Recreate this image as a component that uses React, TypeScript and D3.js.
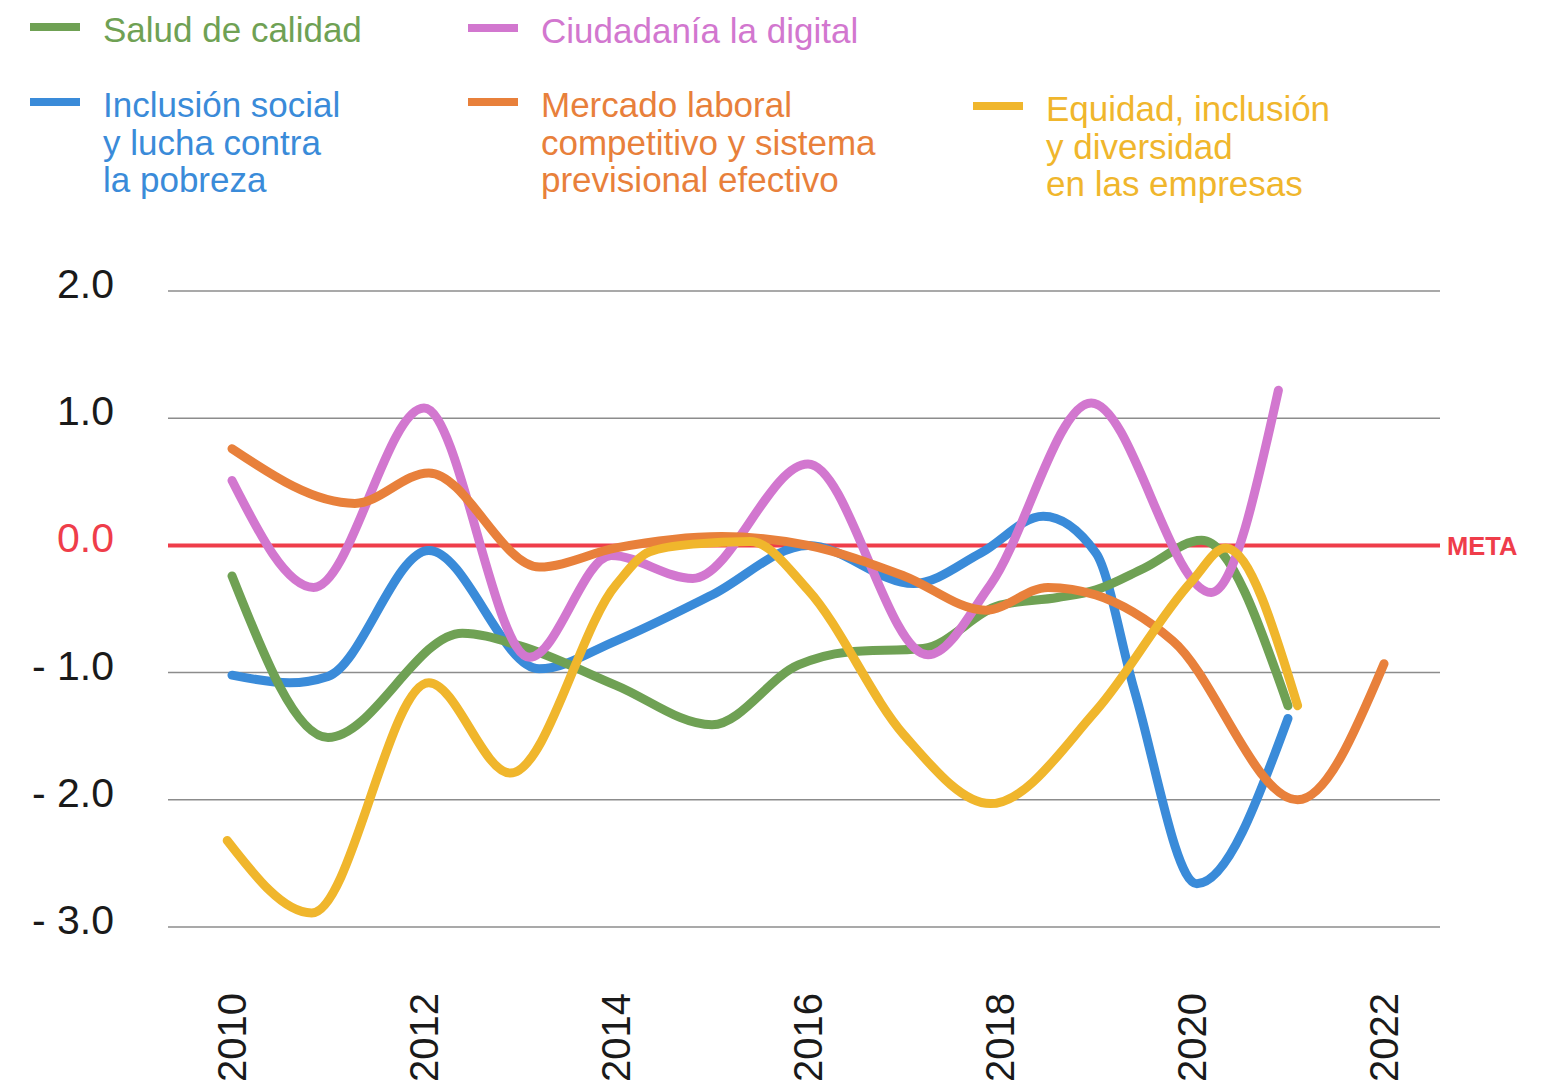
import React from "react";
import * as d3 from "d3";

const W = 1541;
const H = 1090;

// Year ticks and y ticks
const yearTicks = [2010, 2012, 2014, 2016, 2018, 2020, 2022];
const valueTicks = [2, 1, 0, -1, -2, -3];
const valueTickLabels = ["2.0", "1.0", "0.0", "- 1.0", "- 2.0", "- 3.0"];

// Series data: [year, value]
const salud: [number, number][] = [
  [2010, -0.24], [2011.0, -1.51], [2012.4, -0.69], [2013, -0.79], [2014, -1.1],
  [2015, -1.41], [2015.9, -0.94], [2016.4, -0.84], [2017.2, -0.81], [2018, -0.47],
  [2018.6, -0.41], [2019, -0.35], [2019.5, -0.18], [2020.1, 0.04], [2021.0, -1.26],
];
const inclusion: [number, number][] = [
  [2010, -1.02], [2010.6, -1.08], [2011, -1.03], [2012.05, -0.04], [2013.2, -0.97],
  [2014, -0.75], [2015, -0.39], [2016, 0.0], [2017.1, -0.3], [2017.8, -0.06],
  [2018.45, 0.23], [2019, -0.06], [2019.4, -1.14], [2020.05, -2.66], [2021.0, -1.36],
];
const ciudadania: [number, number][] = [
  [2010, 0.51], [2010.85, -0.33], [2012, 1.08], [2013.1, -0.88], [2013.95, -0.08],
  [2014.8, -0.26], [2016, 0.64], [2017.25, -0.86], [2017.9, -0.31], [2018.95, 1.12],
  [2020.2, -0.37], [2020.9, 1.22],
];
const mercado: [number, number][] = [
  [2010, 0.76], [2011.28, 0.33], [2012.05, 0.57], [2013.2, -0.17], [2014, -0.02],
  [2015.1, 0.07], [2016, 0.0], [2017, -0.24], [2017.85, -0.51], [2018.5, -0.33],
  [2019, -0.39], [2019.8, -0.75], [2021.1, -2.0], [2022, -0.93],
];
const equidad: [number, number][] = [
  [2009.95, -2.32], [2010.83, -2.89], [2012.05, -1.08], [2012.9, -1.79], [2014, -0.31],
  [2014.35, -0.05], [2014.8, 0.01], [2015.4, 0.03], [2016, -0.35], [2017, -1.49],
  [2017.9, -2.03], [2019, -1.3], [2020, -0.28], [2020.35, -0.02], [2021.1, -1.26],
];

const seriesNames = [
  ["Salud de calidad"],
  ["Ciudadanía la digital"],
  ["Inclusión social", "y lucha contra", "la pobreza"],
  ["Mercado laboral", "competitivo y sistema", "previsional efectivo"],
  ["Equidad, inclusión", "y diversidad", "en las empresas"],
];
const seriesColors = ["#6FA154", "#D277CF", "#3A8BD9", "#E8803B", "#F0B62C"];
const seriesData = [salud, ciudadania, inclusion, mercado, equidad];

// Legend layout
const legendPos = [
  { x: 30, y: 27 },
  { x: 468, y: 28 },
  { x: 30, y: 102 },
  { x: 468, y: 102 },
  { x: 973, y: 106 },
];

const FONT = "'Liberation Sans', Arial, Helvetica, sans-serif";

export default function App() {
  const x = d3.scaleLinear().domain([2010, 2022]).range([232, 1384]);
  const y = d3.scaleLinear().domain([-3, 2]).range([927, 291]);
  const line = d3
    .line<[number, number]>()
    .x((d) => x(d[0]))
    .y((d) => y(d[1]))
    .curve(d3.curveMonotoneX);

  const gridX0 = 168;
  const gridX1 = 1440;
  const drawOrder = [2, 0, 1, 3, 4];

  return (
    <svg
      width={W}
      height={H}
      style={{ position: "absolute", left: 0, top: 0, background: "#fff" }}
      fontFamily={FONT}
    >
      <rect x={0} y={0} width={W} height={H} fill="#fff" />
      {/* legend */}
      {seriesNames.map((lines, i) => (
        <g key={i}>
          <line
            x1={legendPos[i].x}
            x2={legendPos[i].x + 50}
            y1={legendPos[i].y}
            y2={legendPos[i].y}
            stroke={seriesColors[i]}
            strokeWidth={8}
          />
          <text
            x={legendPos[i].x + 73}
            y={legendPos[i].y + 15}
            fill={seriesColors[i]}
            fontSize={35}
          >
            {lines.map((l, j) => (
              <tspan key={j} x={legendPos[i].x + 73} dy={j === 0 ? 0 : 37.5}>
                {l}
              </tspan>
            ))}
          </text>
        </g>
      ))}
      {/* grid */}
      {valueTicks.map((v) =>
        v === 0 ? null : (
          <line
            key={v}
            x1={gridX0}
            x2={gridX1}
            y1={y(v)}
            y2={y(v)}
            stroke="#8c8c8c"
            strokeWidth={1.5}
          />
        )
      )}
      {valueTicks.map((v, i) => (
        <text
          key={"t" + v}
          x={114}
          y={y(v) + 7}
          textAnchor="end"
          fontSize={41}
          fill={v === 0 ? "#EF3D4A" : "#1a1a1a"}
        >
          {valueTickLabels[i]}
        </text>
      ))}
      {yearTicks.map((t) => (
        <text
          key={t}
          transform={`translate(${x(t) + 14},993) rotate(-90)`}
          textAnchor="end"
          fontSize={40}
          fill="#1a1a1a"
        >
          {t}
        </text>
      ))}
      {/* meta line */}
      <line x1={gridX0} x2={gridX1} y1={y(0)} y2={y(0)} stroke="#EF3D4A" strokeWidth={4} />
      <text x={1447} y={y(0) + 9.5} fill="#EF3D4A" fontSize={25.5} fontWeight="bold">
        META
      </text>
      {/* series */}
      {drawOrder.map((i) => (
        <path
          key={i}
          d={line(seriesData[i]) || ""}
          fill="none"
          stroke={seriesColors[i]}
          strokeWidth={9}
          strokeLinecap="round"
          strokeLinejoin="round"
        />
      ))}
    </svg>
  );
}
